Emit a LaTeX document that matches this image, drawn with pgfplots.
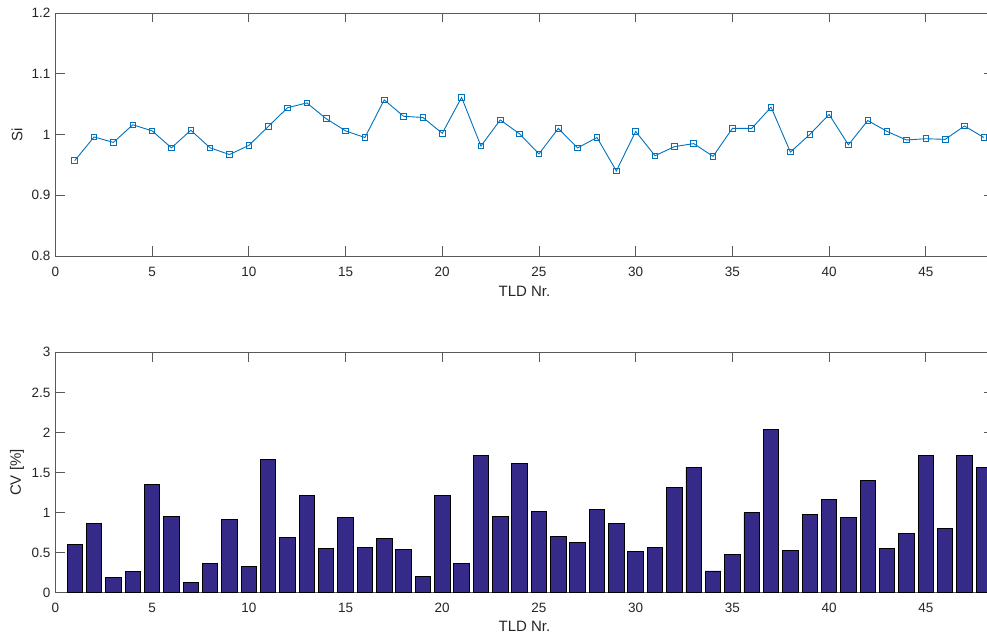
\documentclass[border=0pt]{standalone}
\usepackage{pgfplots}
\pgfplotsset{compat=1.18}
\usepackage{fontspec}
\setmainfont{Liberation Sans}

\definecolor{mlblue}{rgb}{0,0.447,0.741}
\definecolor{parula1}{rgb}{0.2081,0.1663,0.5292}
\definecolor{axgray}{gray}{0.15}

% Si response per dosimeter
\pgfplotstableread{
n  si
1  0.957
2  0.996
3  0.987
4  1.016
5  1.006
6  0.978
7  1.007
8  0.978
9  0.967
10 0.982
11 1.013
12 1.044
13 1.052
14 1.026
15 1.006
16 0.995
17 1.057
18 1.030
19 1.028
20 1.002
21 1.061
22 0.981
23 1.024
24 1.001
25 0.968
26 1.010
27 0.978
28 0.995
29 0.940
30 1.005
31 0.965
32 0.980
33 0.985
34 0.964
35 1.010
36 1.010
37 1.045
38 0.971
39 1.000
40 1.033
41 0.983
42 1.023
43 1.005
44 0.991
45 0.993
46 0.992
47 1.014
48 0.995
}\sidata

% coefficient of variation per dosimeter
\pgfplotstableread{
n  cv
1  0.605
2  0.863
3  0.190
4  0.270
5  1.346
6  0.955
7  0.130
8  0.367
9  0.913
10 0.325
11 1.667
12 0.688
13 1.217
14 0.555
15 0.934
16 0.567
17 0.671
18 0.542
19 0.205
20 1.217
21 0.367
22 1.713
23 0.955
24 1.609
25 1.013
26 0.696
27 0.625
28 1.034
29 0.867
30 0.517
31 0.567
32 1.313
33 1.567
34 0.271
35 0.475
36 0.996
37 2.042
38 0.530
39 0.980
40 1.159
41 0.942
42 1.405
43 0.555
44 0.738
45 1.709
46 0.805
47 1.713
48 1.567
}\cvdata

\pgfplotsset{
  panel/.style={
    scale only axis,
    width=938.1pt,
    xmin=0, xmax=48.5,
    xtick={0,5,...,45},
    tick align=inside,
    major tick length=9.5pt,
    tick style={draw=black!65, line width=0.8pt},
    axis line style={draw=black!65, line width=0.8pt},
    /pgf/number format/assume math mode=true,
    ticklabel style={font=\fontsize{13.5}{16}\selectfont, text=axgray},
    xticklabel style={anchor=center, yshift=-15.5pt},
    yticklabel style={xshift=-1.5pt},
    label style={font=\fontsize{15}{18}\selectfont, text=axgray},
    xlabel style={at={(axis description cs:0.5,0)}, anchor=center, yshift=-35pt},
    % the y label is rotated, so its shift is along the rotated frame
    ylabel style={at={(axis description cs:0,0.5)}, anchor=center, yshift=38.4pt},
    xlabel={TLD Nr.},
    enlargelimits=false,
    clip=true,
  }
}

\begin{document}
\begin{tikzpicture}
\begin{axis}[panel,
  at={(55.4pt,383pt)}, anchor=south west,
  height=243pt,
  ymin=0.8, ymax=1.2,
  ytick={0.8,0.9,1,1.1,1.2},
  yticklabels={0.8,0.9,1,1.1,1.2},
  ylabel={Si},
]
\addplot[mlblue, line width=0.9pt, mark=square, mark size=2.8pt,
  mark options={line width=0.9pt}] table[x=n, y=si] {\sidata};
\end{axis}

\begin{axis}[panel,
  at={(55.4pt,46.3pt)}, anchor=south west,
  height=240.4pt,
  ymin=0, ymax=3,
  ytick={0,0.5,...,3},
  yticklabels={0,0.5,1,1.5,2,2.5,3},
  ylabel={CV [\%]},
  xlabel style={yshift=1.5pt},
]
\addplot[ybar, bar width=0.8, fill=parula1, draw=black, line width=0.9pt]
  table[x=n, y=cv] {\cvdata};
\end{axis}
\pgfresetboundingbox
\path[use as bounding box] (0,0) rectangle (987pt,639pt);
\end{tikzpicture}
\end{document}
